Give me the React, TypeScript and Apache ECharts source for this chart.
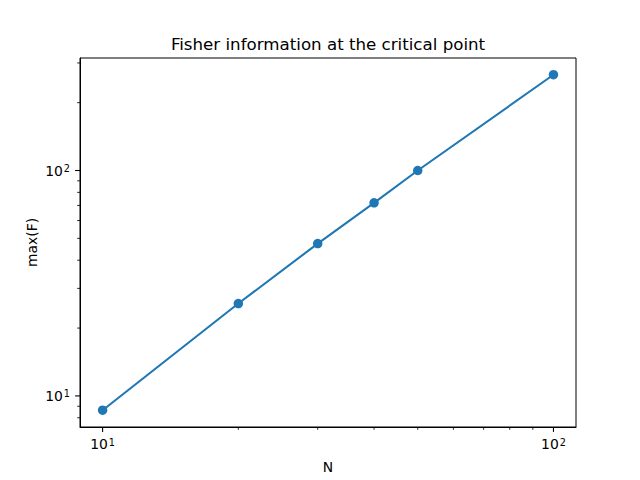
import React, { useEffect, useRef } from "react";
import * as echarts from "echarts";

const titleText = "Fisher information at the critical point";
const xName = "N";
const yName = "max(F)";
const nValues = [10, 20, 30, 40, 50, 100];
const maxF = [8.64, 25.7, 47.4, 71.9, 100, 266];
const xMajorTicks = [10, 100];
const yMajorTicks = [10, 100];
const xMinorTicks = [20, 30, 40, 50, 60, 70, 80, 90];
const yMinorTicks = [8, 9, 20, 30, 40, 50, 60, 70, 80, 90, 200, 300];
const xRange = [8.91, 112.2];
const yRange = [7.28, 315.6];

const FONT = "DejaVu Sans";
const BLUE = "#1f77b4";

function isPow10(v: number) {
  const l = Math.log10(v);
  return Math.abs(l - Math.round(l)) < 1e-6;
}

function fmt(v: number) {
  if (!isPow10(v)) return "";
  const e = Math.round(Math.log10(v));
  return "{b|10}{s|" + e + "}";
}

const rich = {
  b: { fontFamily: FONT, fontSize: 13.9, color: "#000" },
  s: { fontFamily: FONT, fontSize: 9.7, color: "#000", verticalAlign: "top", padding: [0, 0, 0, 1] },
};

export default function App() {
  const ref = useRef<HTMLDivElement>(null);
  useEffect(() => {
    if (!ref.current) return;
    const chart = echarts.init(ref.current, undefined, { renderer: "svg" });
    const gridLeft = 80;
    const gridTop = 58;
    const gridRight = 576;
    const gridBottom = 427;
    chart.setOption({
      animation: false,
      backgroundColor: "#fff",
      grid: {
        left: gridLeft,
        top: gridTop,
        width: gridRight - gridLeft,
        height: gridBottom - gridTop,
        show: true,
        borderColor: "#000",
        borderWidth: 1,
        backgroundColor: "transparent",
      },
      xAxis: {
        type: "log",
        logBase: 10,
        min: xRange[0],
        max: xRange[1],
        axisLine: { show: true, lineStyle: { color: "#000", width: 1 } },
        axisTick: { show: false },
        splitLine: { show: false },
        minorTick: { show: false },
        axisLabel: { formatter: fmt, rich, margin: 10, showMinLabel: false, showMaxLabel: false, hideOverlap: false },
      },
      yAxis: {
        type: "log",
        logBase: 10,
        min: yRange[0],
        max: yRange[1],
        axisLine: { show: true, lineStyle: { color: "#000", width: 1 } },
        axisTick: { show: false },
        splitLine: { show: false },
        minorTick: { show: false },
        axisLabel: { formatter: fmt, rich, margin: 10, showMinLabel: false, showMaxLabel: false, hideOverlap: false },
      },
      series: [
        {
          type: "line",
          data: nValues.map((n, i) => [n, maxF[i]]),
          symbol: "circle",
          symbolSize: 9.5,
          showSymbol: true,
          lineStyle: { color: BLUE, width: 2.08 },
          itemStyle: { color: BLUE },
        },
      ],
    });

    const g: any[] = [];
    const addX = (v: number, len: number, w: number) => {
      const px = chart.convertToPixel({ xAxisIndex: 0 }, v) as number;
      g.push({ type: "line", shape: { x1: px, y1: gridBottom, x2: px, y2: gridBottom + len }, style: { stroke: "#000", lineWidth: w } });
    };
    const addY = (v: number, len: number, w: number) => {
      const py = chart.convertToPixel({ yAxisIndex: 0 }, v) as number;
      g.push({ type: "line", shape: { x1: gridLeft - len, y1: py, x2: gridLeft, y2: py }, style: { stroke: "#000", lineWidth: w } });
    };
    xMajorTicks.forEach((v) => addX(v, 4.9, 1.1));
    xMinorTicks.forEach((v) => addX(v, 2.8, 0.85));
    yMajorTicks.forEach((v) => addY(v, 4.9, 1.1));
    yMinorTicks.forEach((v) => addY(v, 2.8, 0.85));
    g.push({
      type: "text",
      x: (gridLeft + gridRight) / 2,
      y: 44,
      style: { text: titleText, fontFamily: FONT, fontSize: 16.67, fill: "#000", textAlign: "center", textVerticalAlign: "middle" },
    });
    g.push({
      type: "text",
      x: (gridLeft + gridRight) / 2,
      y: 467,
      style: { text: xName, fontFamily: FONT, fontSize: 13.9, fill: "#000", textAlign: "center", textVerticalAlign: "middle" },
    });
    g.push({
      type: "text",
      x: 32,
      y: (gridTop + gridBottom) / 2,
      rotation: Math.PI / 2,
      style: { text: yName, fontFamily: FONT, fontSize: 13.9, fill: "#000", textAlign: "center", textVerticalAlign: "middle" },
    });
    chart.setOption({ graphic: g });

    return () => chart.dispose();
  }, []);
  return <div ref={ref} style={{ position: "fixed", left: 0, top: 0, width: 640, height: 480 }} />;
}
